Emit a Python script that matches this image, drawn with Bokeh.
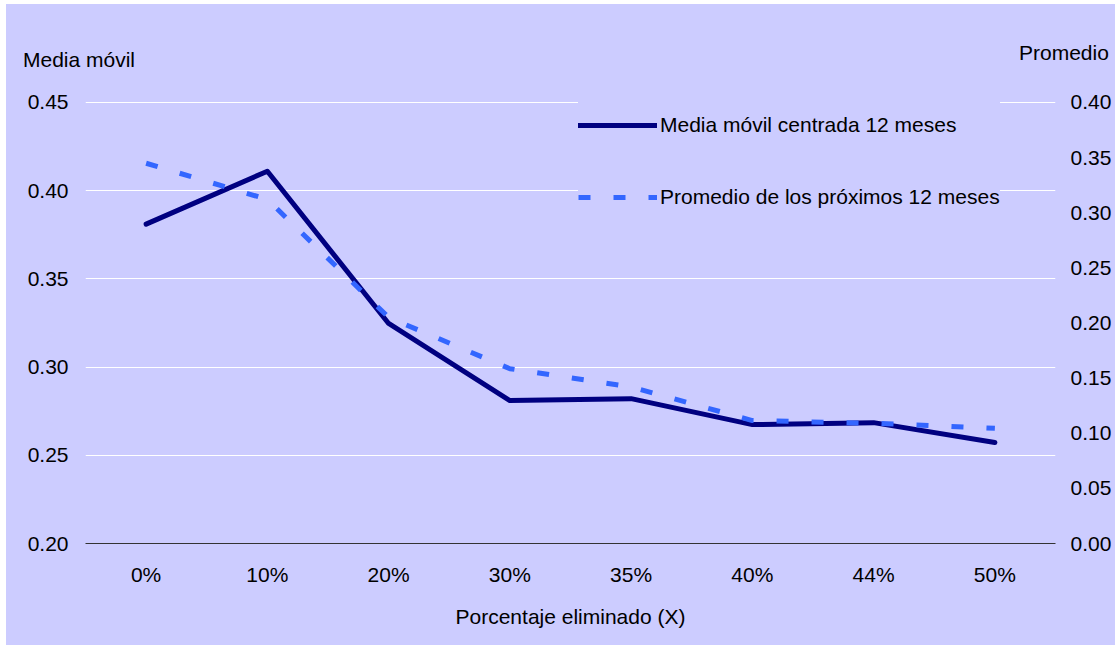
from bokeh.plotting import figure
from bokeh.models import (FactorRange, Range1d, LinearAxis, Legend, LegendItem,
                          FixedTicker, CustomJSTickFormatter, Spacer, Div)
from bokeh.layouts import column, row
from bokeh.embed import file_html
from bokeh.resources import INLINE

categories = ["0%", "10%", "20%", "30%", "35%", "40%", "44%", "50%"]
media_movil = [0.381, 0.411, 0.3247, 0.281, 0.2821, 0.2674, 0.2685, 0.2572]
promedio = [0.3448, 0.312, 0.205, 0.1585, 0.142, 0.1115, 0.109, 0.1045]
left_ticks = [0.20, 0.25, 0.30, 0.35, 0.40, 0.45]
right_ticks = [0.00, 0.05, 0.10, 0.15, 0.20, 0.25, 0.30, 0.35, 0.40]
left_title = "Media móvil"
right_title = "Promedio"
x_title = "Porcentaje eliminado (X)"

BG = "#CCCCFF"
FONT = "Liberation Sans"
FS = "21px"
W = 1109
HEAD = 75

span = ('<span style="position:absolute;left:{l}px;top:{t}px;white-space:nowrap;'
        'line-height:21px;">{txt}</span>')
header_html = (
    f'<div style="position:relative;width:{W}px;height:{HEAD}px;background:{BG};'
    f'font-family:\'{FONT}\';font-size:{FS};color:black;overflow:hidden;">'
    + span.format(l=17, t=45, txt=left_title)
    + span.format(l=1013, t=38, txt=right_title)
    + '</div>')
header = Div(text=header_html, width=W, height=HEAD, margin=0)

# small headroom above the top tick so its gridline is not clipped
top_pad = 0.0005
p = figure(width=W, height=641 - HEAD, x_range=FactorRange(*categories),
           y_range=Range1d(0.20, 0.45 + top_pad), output_backend="svg",
           toolbar_location=None,
           min_border_left=79, min_border_right=60, min_border_top=98 - HEAD - 1,
           min_border_bottom=102, margin=0)
p.extra_y_ranges = {"right": Range1d(0.0, 0.40 + top_pad * 1.6)}
p.background_fill_color = None
p.border_fill_color = None
p.outline_line_color = None

p.xgrid.grid_line_color = None
p.ygrid.grid_line_color = "white"
p.ygrid.grid_line_width = 1

fmt = "return tick.toFixed(2);"

la = p.yaxis[0]
la.ticker = FixedTicker(ticks=left_ticks)
la.formatter = CustomJSTickFormatter(code=fmt)
ra = LinearAxis(y_range_name="right", ticker=FixedTicker(ticks=right_ticks),
                formatter=CustomJSTickFormatter(code=fmt))
p.add_layout(ra, "right")
for ax, so in ((la, 17), (ra, 15)):
    ax.axis_line_color = None
    ax.major_tick_line_color = None
    ax.minor_tick_line_color = None
    ax.major_tick_out = 0
    ax.major_tick_in = 0
    ax.minor_tick_out = 0
    ax.major_label_standoff = so
    ax.major_label_text_font = FONT
    ax.major_label_text_font_size = FS
    ax.major_label_text_color = "black"

xa = p.xaxis[0]
xa.axis_line_color = "#333333"
xa.axis_line_width = 1
xa.major_tick_line_color = None
xa.minor_tick_line_color = None
xa.major_tick_out = 0
xa.major_tick_in = 0
xa.major_label_standoff = 19
xa.major_label_text_font = FONT
xa.major_label_text_font_size = FS
xa.major_label_text_color = "black"
xa.axis_label = x_title
xa.axis_label_standoff = 16
xa.axis_label_text_font = FONT
xa.axis_label_text_font_size = FS
xa.axis_label_text_font_style = "normal"
xa.axis_label_text_color = "black"

r1 = p.line(categories, media_movil, line_color="#000080", line_width=5,
            line_cap="round", line_join="round")
r2 = p.line(categories, promedio, y_range_name="right", line_color="#3366FF",
            line_width=5, line_dash="12 23", line_cap="butt")

legend = Legend(items=[LegendItem(label="Media móvil centrada 12 meses", renderers=[r1]),
                       LegendItem(label="Promedio de los próximos 12 meses", renderers=[r2])],
                location=(493, 321), orientation="vertical")
legend.background_fill_color = BG
legend.background_fill_alpha = 1
legend.border_line_color = None
legend.margin = 0
legend.padding = 0
legend.spacing = 22
legend.glyph_width = 79
legend.glyph_height = 50
legend.label_height = 50
legend.label_standoff = 3
legend.label_text_font = FONT
legend.label_text_font_size = FS
legend.label_text_color = "black"
p.add_layout(legend, "center")

chart = column(header, p, spacing=0, styles={"background-color": BG})
layout = column(Spacer(height=4),
                row(Spacer(width=6), chart, spacing=0),
                spacing=0)
open("out.html", "w").write(file_html(layout, INLINE))
